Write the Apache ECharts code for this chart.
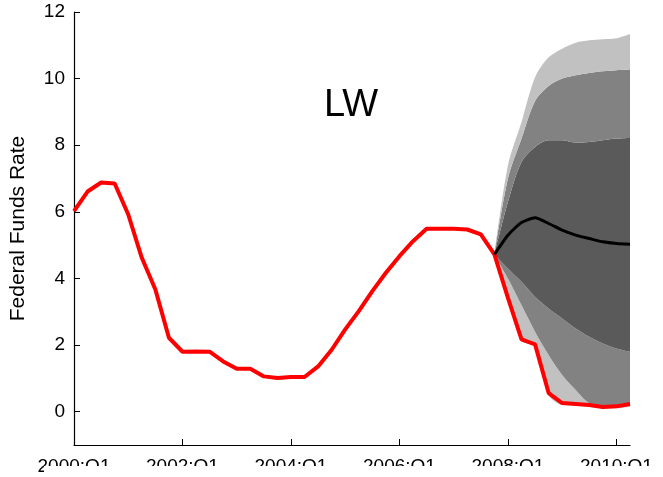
<!DOCTYPE html>
<html>
<head>
<meta charset="utf-8">
<script src="https://cdn.jsdelivr.net/npm/echarts@6/dist/echarts.min.js"></script>
<style>
  html, body { margin: 0; padding: 0; background: #fff; }
  #chart { width: 663px; height: 477px; }
</style>
</head>
<body>
<div id="chart"></div>
<script>
// quarters 2000:Q1 .. 2010:Q2
const quarters = [];
for (let y = 2000; y <= 2010; y++) {
  for (let q = 1; q <= 4; q++) quarters.push(y + ':Q' + q);
}
quarters.length = 42;

const yTicks = [0, 2, 4, 6, 8, 10, 12];

// actual federal funds rate (red)
const fedFunds = [
  6.02, 6.61, 6.88, 6.85, 5.92, 4.62, 3.67, 2.22, 1.80, 1.81,
  1.80, 1.51, 1.29, 1.29, 1.06, 1.01, 1.04, 1.04, 1.36, 1.86,
  2.47, 3.02, 3.62, 4.17, 4.67, 5.12, 5.49, 5.49, 5.49, 5.47,
  5.32, 4.72, 3.42, 2.17, 2.02, 0.56, 0.26, 0.23, 0.20, 0.14,
  0.16, 0.23
];

// forecast from 2007:Q4 (index 31) onward
const fcStart = 31;
const median  = [4.72, 5.30, 5.68, 5.82, 5.65, 5.45, 5.30, 5.20, 5.10, 5.05, 5.03];
const outerLo = [4.72, 3.37, 2.12, 1.97, 0.50, 0.20, 0.18, 0.15, 0.10, 0.10, 0.15];
const midLo   = [4.72, 4.00, 3.20, 2.40, 1.70, 1.10, 0.65, 0.25, 0.15, 0.12, 0.17];
const darkLo  = [4.72, 4.30, 3.90, 3.45, 3.10, 2.80, 2.50, 2.25, 2.05, 1.90, 1.80];
const darkHi  = [4.72, 6.30, 7.50, 7.95, 8.15, 8.15, 8.08, 8.10, 8.15, 8.20, 8.22];
const midHi   = [4.72, 7.00, 8.20, 9.33, 9.78, 10.00, 10.10, 10.17, 10.22, 10.25, 10.27];
const outerHi = [4.72, 7.40, 8.70, 10.04, 10.64, 10.90, 11.08, 11.15, 11.18, 11.21, 11.34];

function pad(arr) {
  const out = new Array(fcStart).fill(null);
  return out.concat(arr);
}
function diff(hi, lo) {
  return pad(hi.map((v, i) => +(v - lo[i]).toFixed(3)));
}

const light = '#c1c1c1', mid = '#828282', dark = '#5a5a5a';

function band(name, data, color) {
  return {
    name, type: 'line', stack: 'fan', data,
    symbol: 'none', silent: true, smooth: 0.3,
    lineStyle: { width: 0 },
    areaStyle: { color, opacity: 1 },
    z: 1
  };
}

const chart = echarts.init(document.getElementById('chart'));
chart.setOption({
  animation: false,
  backgroundColor: '#fff',
  grid: { left: 73, right: 33, top: 12, bottom: 32 },
  xAxis: {
    type: 'category',
    data: quarters,
    boundaryGap: false,
    axisLine: { onZero: false, lineStyle: { color: '#000', width: 1.2 } },
    axisTick: { inside: true, length: 6, interval: 7, lineStyle: { color: '#000' } },
    axisLabel: {
      interval: 7, margin: 12, color: '#000',
      fontFamily: 'Liberation Sans', fontSize: 19
    },
    splitLine: { show: false }
  },
  yAxis: {
    type: 'value',
    min: -1, max: 12,
    name: 'Federal Funds Rate',
    nameLocation: 'middle',
    nameRotate: 90,
    nameGap: 45,
    nameTextStyle: { color: '#000', fontFamily: 'Liberation Sans', fontSize: 21 },
    axisLine: { show: true, lineStyle: { color: '#000', width: 1.2 } },
    axisTick: { show: true, inside: true, length: 6, customValues: yTicks, lineStyle: { color: '#000' } },
    axisLabel: {
      customValues: yTicks, margin: 9, color: '#000',
      fontFamily: 'Liberation Sans', fontSize: 19
    },
    splitLine: { show: false }
  },
  graphic: [
    {
      type: 'text', left: 324, top: 87, z: 10,
      style: { text: 'LW', fill: '#000', font: '38px "Liberation Sans"' }
    },
    {
      type: 'rect', z: 100,
      shape: { x: 44, y: 466, width: 619, height: 11 },
      style: { fill: '#fff' }
    }
  ],
  series: [
    { name: 'base', type: 'line', stack: 'fan', data: pad(outerLo), symbol: 'none',
      silent: true, smooth: 0.3, lineStyle: { width: 0 }, z: 1 },
    band('outerLoBand', diff(midLo, outerLo), light),
    band('midLoBand', diff(darkLo, midLo), mid),
    band('darkBand', diff(darkHi, darkLo), dark),
    band('midHiBand', diff(midHi, darkHi), mid),
    band('outerHiBand', diff(outerHi, midHi), light),
    {
      name: 'Federal funds rate', type: 'line', data: fedFunds,
      symbol: 'none', lineStyle: { color: '#ff0000', width: 4 }, z: 5
    },
    {
      name: 'Median', type: 'line', data: pad(median),
      symbol: 'none', smooth: 0.2, lineStyle: { color: '#000', width: 3 }, z: 6
    }
  ]
});
</script>
</body>
</html>
